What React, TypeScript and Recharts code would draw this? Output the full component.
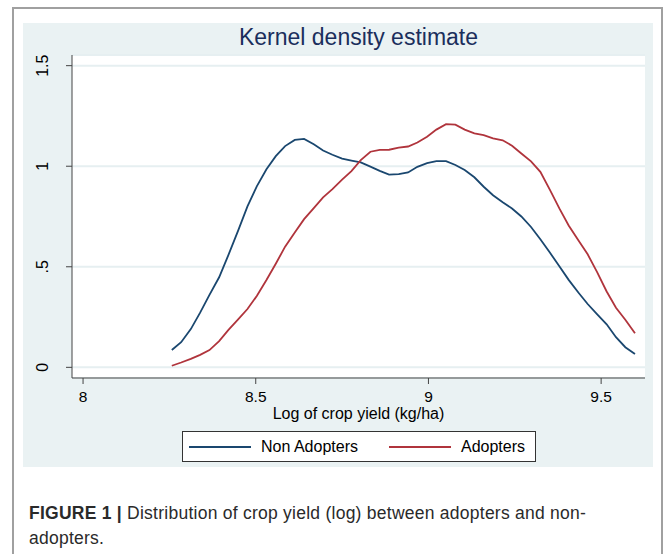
import React from "react";
import { LineChart, Line, XAxis, YAxis, CartesianGrid } from "recharts";

// kdensity evaluation points (log crop yield)
const yieldGrid = [
  8.257, 8.284, 8.312, 8.339, 8.366, 8.394, 8.421, 8.449, 8.476, 8.503,
  8.531, 8.558, 8.585, 8.613, 8.64, 8.668, 8.695, 8.722, 8.75, 8.777,
  8.804, 8.832, 8.859, 8.886, 8.914, 8.941, 8.968, 8.996, 9.023, 9.051,
  9.078, 9.105, 9.133, 9.16, 9.187, 9.215, 9.242, 9.269, 9.297, 9.324,
  9.351, 9.379, 9.406, 9.434, 9.461, 9.488, 9.516, 9.543, 9.57, 9.598,
];

const nonAdopters = [
  0.086, 0.125, 0.19, 0.272, 0.36, 0.448, 0.559, 0.68, 0.8, 0.9,
  0.985, 1.05, 1.1, 1.131, 1.136, 1.109, 1.078, 1.057, 1.038, 1.028,
  1.019, 0.998, 0.977, 0.958, 0.961, 0.969, 0.997, 1.015, 1.025, 1.025,
  1.006, 0.981, 0.945, 0.898, 0.856, 0.821, 0.79, 0.75, 0.698, 0.637,
  0.572, 0.503, 0.435, 0.372, 0.315, 0.265, 0.214, 0.15, 0.1, 0.066,
];

const adopters = [
  0.008, 0.024, 0.042, 0.062, 0.086, 0.13, 0.186, 0.238, 0.29, 0.355,
  0.434, 0.515, 0.6, 0.67, 0.737, 0.792, 0.845, 0.886, 0.933, 0.976,
  1.03, 1.072, 1.081, 1.082, 1.092, 1.098, 1.118, 1.147, 1.182, 1.209,
  1.207, 1.182, 1.163, 1.155, 1.138, 1.129, 1.102, 1.063, 1.024, 0.972,
  0.885, 0.79, 0.705, 0.632, 0.562, 0.475, 0.377, 0.296, 0.237, 0.169,
];

const xTicks = [8, 8.5, 9, 9.5];
const yTicks = [0, 0.5, 1, 1.5];
const yTickLabels = ["0", ".5", "1", "1.5"];
const seriesNames = ["Non Adopters", "Adopters"];
const seriesColors = ["#1a476f", "#b0343c"];

const FONT = '"Liberation Sans", Arial, Helvetica, sans-serif';

const rows = yieldGrid.map((x, i) => ({
  x,
  non: nonAdopters[i],
  adopt: adopters[i],
}));

function RotatedTick(props: any) {
  const { x, y, payload } = props;
  const idx = yTicks.indexOf(payload.value);
  return (
    <text
      x={x}
      y={y}
      transform={`rotate(-90, ${x}, ${y})`}
      textAnchor="middle"
      fontSize={16}
      fontFamily={FONT}
      fill="#000"
    >
      {idx >= 0 ? yTickLabels[idx] : payload.value}
    </text>
  );
}

export default function App() {
  return (
    <div
      style={{
        position: "absolute",
        left: 0,
        top: 0,
        width: 663,
        height: 554,
        background: "#fff",
        overflow: "hidden",
        fontFamily: FONT,
      }}
    >
      {/* page frame */}
      <div
        style={{
          position: "absolute",
          left: 12,
          top: 7,
          width: 647,
          height: 600,
          borderLeft: "2px solid #a0a0a0",
          borderTop: "2px solid #a0a0a0",
          borderRight: "2px solid #a0a0a0",
        }}
      />
      {/* graph region */}
      <div
        style={{
          position: "absolute",
          left: 23,
          top: 23,
          width: 630,
          height: 444,
          background: "#eaf2f3",
        }}
      />
      <div
        style={{
          position: "absolute",
          left: 72,
          width: 573,
          top: 24,
          textAlign: "center",
          fontSize: 23,
          lineHeight: "26px",
          color: "#1a2e5c",
        }}
      >
        Kernel density estimate
      </div>
      <div style={{ position: "absolute", left: 0, top: 0 }}>
        <LineChart
          width={663}
          height={470}
          data={rows}
          margin={{ top: 55, right: 18, left: 0, bottom: 0 }}
        >
          <CartesianGrid
            vertical={false}
            fill="#ffffff"
            stroke="#e6eff1"
            strokeWidth={2}
          />
          <XAxis
            dataKey="x"
            type="number"
            domain={[7.968, 9.627]}
            ticks={xTicks}
            allowDataOverflow
            height={92}
            tickSize={6}
            tickMargin={7}
            stroke="#444"
            tick={{ fill: "#000", fontSize: 15.5, fontFamily: FONT }}
            tickLine={{ stroke: "#444" }}
          />
          <YAxis
            type="number"
            domain={[-0.053, 1.553]}
            ticks={yTicks}
            allowDataOverflow
            width={72}
            tickSize={6}
            tickMargin={18}
            stroke="#444"
            tick={<RotatedTick />}
            tickLine={{ stroke: "#444" }}
          />
          <Line
            type="linear"
            dataKey="non"
            name={seriesNames[0]}
            stroke={seriesColors[0]}
            strokeWidth={1.8}
            dot={false}
            isAnimationActive={false}
          />
          <Line
            type="linear"
            dataKey="adopt"
            name={seriesNames[1]}
            stroke={seriesColors[1]}
            strokeWidth={1.8}
            dot={false}
            isAnimationActive={false}
          />
        </LineChart>
      </div>
      <div
        style={{
          position: "absolute",
          left: 72,
          width: 573,
          top: 405,
          textAlign: "center",
          fontSize: 16,
          lineHeight: "18px",
          color: "#000",
        }}
      >
        Log of crop yield (kg/ha)
      </div>
      {/* legend */}
      <div
        style={{
          position: "absolute",
          left: 182,
          top: 431,
          width: 352,
          height: 29,
          border: "1px solid #333",
          background: "#fff",
          fontSize: 16,
          color: "#000",
        }}
      >
        {seriesNames.map((name, i) => (
          <div
            key={name}
            style={{
              position: "absolute",
              left: i === 0 ? 6 : 206,
              top: 0,
              height: 29,
              display: "flex",
              alignItems: "center",
            }}
          >
            <div
              style={{
                width: 62,
                height: 2,
                background: seriesColors[i],
                marginRight: 10,
              }}
            />
            <span>{name}</span>
          </div>
        ))}
      </div>
      {/* caption */}
      <div
        style={{
          position: "absolute",
          left: 29,
          top: 501,
          width: 620,
          fontSize: 17.5,
          letterSpacing: 0.25,
          lineHeight: "25px",
          color: "#2a2a2a",
          whiteSpace: "nowrap",
        }}
      >
        <b>FIGURE 1 |</b> Distribution of crop yield (log) between adopters and non-
        <br />
        adopters.
      </div>
    </div>
  );
}
